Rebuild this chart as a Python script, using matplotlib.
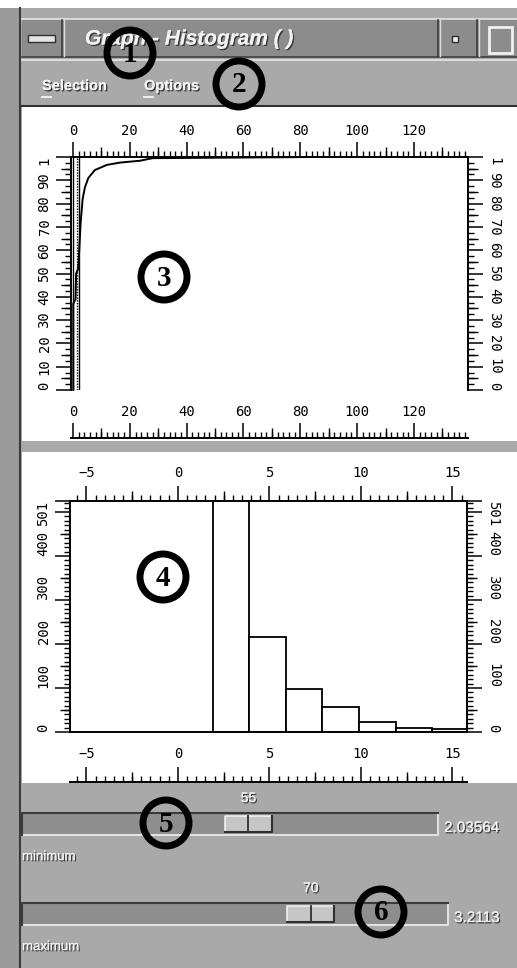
import matplotlib
matplotlib.use("Agg")
import numpy as np
import matplotlib.pyplot as plt
from matplotlib.patches import Rectangle, Circle
from matplotlib.ticker import FixedLocator, MultipleLocator
import matplotlib.patheffects as pe

W, H = 517, 968

# ---- window texts ----
window_title = "Graph - Histogram ( )"
menu_items = ["Selection", "Options"]

# ---- panel 3 : cumulative curve ----
cdf_x = [0.1, 0.1, 0.9, 1.1, 1.8, 2.2, 2.7, 3.4, 4.2, 5.4, 7.7, 11.9, 16.5, 23.6, 28.0, 86.0]
cdf_y = [0.0, 0.37, 0.39, 0.50, 0.52, 0.60, 0.72, 0.82, 0.87, 0.91, 0.944, 0.966, 0.976, 0.984, 0.995, 1.0]
cdf_solid_lines = [0.1, 2.1]
cdf_dotted_lines = [1.4]
cdf_xticks = [0, 20, 40, 60, 80, 100, 120]
cdf_yticks = [0.0, 0.1, 0.2, 0.3, 0.4, 0.5, 0.6, 0.7, 0.8, 0.9, 1.0]
cdf_ylabels = ["0", "10", "20", "30", "40", "50", "60", "70", "80", "90", "1"]

# ---- panel 4 : histogram ----
hist_edges = [1.9, 3.9, 5.9, 7.9, 9.9, 11.9, 13.9, 15.9]
hist_counts = [1150, 216, 98, 57, 23, 10, 6]
hist_xticks = [-5, 0, 5, 10, 15]
hist_yticks = [0, 100, 200, 300, 400, 500, 525]
hist_ylabels = ["0", "100", "200", "300", "400", "", "501"]

# ---- sliders ----
slider_names = ["minimum", "maximum"]
slider_pos = [55, 70]
slider_vals = ["2.03564", "3.2113"]

GRAY = "#a9a9a9"
TICKFONT = dict(family="DejaVu Sans Mono", size=10)


def box(x0, y0, x1, y1):
    # pixel rect (top-left origin) -> figure fraction
    return [x0 / W, 1 - y1 / H, (x1 - x0) / W, (y1 - y0) / H]


def shadow():
    return [pe.withSimplePatchShadow(offset=(1, -1), shadow_rgbFace="#303030", alpha=0.9), pe.Normal()]


fig = plt.figure(figsize=(W / 100, H / 100), dpi=100, facecolor="white")

# ---------------- window chrome ----------------
bg = fig.add_axes([0, 0, 1, 1])
bg.set_xlim(0, W)
bg.set_ylim(H, 0)
bg.axis("off")

bg.add_patch(Rectangle((0, 8), 20, H - 8, fc="#9b9b9b", ec="none"))
bg.plot([19.5, 19.5], [8, H], color="#3a3a3a", lw=1.5)
bg.add_patch(Rectangle((20, 8), W - 20, H - 8, fc=GRAY, ec="none"))

# title bar
bg.add_patch(Rectangle((22, 19), W - 22, 38, fc="#8c8c8c", ec="none"))
bg.plot([22, W], [19, 19], color="#e6e6e6", lw=1.2)
bg.plot([22, W], [57, 57], color="#404040", lw=1.2)
for sx in [62, 438, 477]:
    bg.plot([sx, sx], [20, 56], color="#3c3c3c", lw=1.2)
    bg.plot([sx + 1.5, sx + 1.5], [20, 56], color="#dcdcdc", lw=1.0)
bg.add_patch(Rectangle((28, 35), 27, 7, fc="#e4e4e4", ec="#303030", lw=1.0))
bg.add_patch(Rectangle((452, 36), 6, 6, fc="#f0f0f0", ec="#303030", lw=1.0))
bg.add_patch(Rectangle((489, 27), 23, 26, fc="none", ec="#f0f0f0", lw=2.0))
bg.text(85, 39, window_title, fontsize=15, fontweight="bold", fontstyle="italic",
        family="Liberation Sans", color="#f2f2f2", ha="left", va="center",
        path_effects=shadow())

# menu bar
bg.plot([22, W], [60, 60], color="#e6e6e6", lw=1.2)
menu_x = [42, 144]
for mx, item in zip(menu_x, menu_items):
    bg.text(mx, 86, item, fontsize=10.5, fontweight="bold", family="Liberation Sans",
            color="#f4f4f4", ha="left", va="center", path_effects=shadow())
    bg.plot([mx, mx + 9], [97, 97], color="#f4f4f4", lw=1.3)
bg.plot([22, W], [106, 106], color="#303030", lw=1.5)

# white panels
bg.add_patch(Rectangle((22, 107), W - 22, 334, fc="white", ec="none"))
bg.add_patch(Rectangle((22, 452), W - 22, 331, fc="white", ec="none"))

# sliders
troughs = [(22, 438, 813), (22, 448, 903)]
for (x0, x1, y0), name, pos, val in zip(troughs, slider_names, slider_pos, slider_vals):
    bg.add_patch(Rectangle((x0, y0), x1 - x0, 22, fc="#8e8e8e", ec="none"))
    bg.plot([x0, x1, x1], [y0 + 22, y0 + 22, y0], color="#e2e2e2", lw=1.5)
    bg.plot([x0, x0, x1], [y0 + 22, y0, y0], color="#3a3a3a", lw=1.5)
    tw = 47
    cx = x0 + tw / 2 + pos / 100 * (x1 - x0 - tw)
    bg.add_patch(Rectangle((cx - tw / 2, y0 + 3), tw, 16, fc="#c6c6c6", ec="none"))
    bg.plot([cx - tw / 2, cx - tw / 2, cx + tw / 2], [y0 + 19, y0 + 3, y0 + 3], color="#efefef", lw=1.2)
    bg.plot([cx - tw / 2, cx + tw / 2, cx + tw / 2], [y0 + 19, y0 + 19, y0 + 3], color="#303030", lw=1.5)
    bg.plot([cx, cx], [y0 + 3, y0 + 19], color="#303030", lw=1.3)
    bg.text(cx, y0 - 15, str(pos), fontsize=10, family="Liberation Sans", color="#f2f2f2",
            ha="center", va="center", path_effects=shadow())
    bg.text(x1 + 6, y0 + 15, val, fontsize=11, family="Liberation Sans", color="#f2f2f2",
            ha="left", va="center", path_effects=shadow())
    bg.text(22, y0 + 44, name, fontsize=9.5, family="Liberation Sans", color="#f2f2f2",
            ha="left", va="center", path_effects=shadow())


def mid_ticks(ax, side, locs, length):
    if side in ("top", "bottom"):
        sec = ax.secondary_xaxis(side)
    else:
        sec = ax.secondary_yaxis(side)
    sec.set_ticks(locs)
    sec.tick_params(direction="out", length=length, width=1, labelleft=False, labelright=False,
                    labeltop=False, labelbottom=False)
    for s in sec.spines.values():
        s.set_visible(False)
    return sec


def style_axis(ax):
    for s in ax.spines.values():
        s.set_linewidth(1.4)
    ax.tick_params(which="major", direction="out", length=11, width=1.1)
    ax.tick_params(which="minor", direction="out", length=4, width=1.0)


# ---------------- panel 3 ----------------
ax3 = fig.add_axes(box(71, 157, 468, 390))
ax3.set_xlim(-0.7, 139)
ax3.set_ylim(0, 1)
ax3.patch.set_alpha(0)
style_axis(ax3)
ax3.spines["bottom"].set_visible(False)
ax3.plot(cdf_x, cdf_y, color="black", lw=1.4, clip_on=False)
for x in cdf_solid_lines:
    ax3.axvline(x, color="black", lw=1.0)
for x in cdf_dotted_lines:
    ax3.axvline(x, color="black", lw=1.0, ls=(0, (1, 1)))
ax3.xaxis.set_major_locator(FixedLocator(cdf_xticks))
ax3.xaxis.set_minor_locator(MultipleLocator(2))
ax3.tick_params(axis="x", which="both", bottom=False, top=True, labelbottom=False, labeltop=True)
ax3.tick_params(axis="x", which="major", pad=3)
ax3.set_yticks(cdf_yticks, cdf_ylabels)
ax3.yaxis.set_minor_locator(MultipleLocator(0.025))
ax3.tick_params(axis="y", which="both", left=True, right=True, labelleft=True, labelright=True)
ax3.tick_params(axis="y", which="major", pad=3)
mid_ticks(ax3, "top", list(range(10, 140, 20)), 7)
mid_ticks(ax3, "left", [0.05 + 0.1 * i for i in range(10)], 7)
mid_ticks(ax3, "right", [0.05 + 0.1 * i for i in range(10)], 7)

sc3 = fig.add_axes(box(71, 438, 468, 441))
sc3.set_xlim(ax3.get_xlim())
sc3.patch.set_alpha(0)
for k in ["left", "right", "bottom"]:
    sc3.spines[k].set_visible(False)
sc3.spines["top"].set_linewidth(1.4)
sc3.set_yticks([])
sc3.xaxis.set_major_locator(FixedLocator(cdf_xticks))
sc3.xaxis.set_minor_locator(MultipleLocator(2))
sc3.tick_params(axis="x", which="both", direction="out", bottom=False, top=True,
                labelbottom=False, labeltop=True)
sc3.tick_params(axis="x", which="major", length=11, width=1.1, pad=3)
sc3.tick_params(axis="x", which="minor", length=4, width=1.0)
mid_ticks(sc3, "top", list(range(10, 140, 20)), 7)

# ---------------- panel 4 ----------------
ax4 = fig.add_axes(box(70, 501, 467, 732))
ax4.set_xlim(-5.9, 15.8)
ax4.set_ylim(0, 525)
style_axis(ax4)
ax4.bar(hist_edges[:-1], hist_counts, width=np.diff(hist_edges), align="edge",
        facecolor="white", edgecolor="black", lw=1.3)
ax4.xaxis.set_major_locator(FixedLocator(hist_xticks))
ax4.xaxis.set_minor_locator(MultipleLocator(0.5))
ax4.tick_params(axis="x", which="both", bottom=False, top=True, labelbottom=False, labeltop=True)
ax4.tick_params(axis="x", which="major", pad=4)
ax4.set_yticks(hist_yticks, hist_ylabels)
ax4.yaxis.set_minor_locator(MultipleLocator(10))
ax4.tick_params(axis="y", which="both", left=True, right=True, labelleft=True, labelright=True)
ax4.tick_params(axis="y", which="major", pad=3)
mid_ticks(ax4, "top", [-2.5, 2.5, 7.5, 12.5], 7)
mid_ticks(ax4, "left", [50, 150, 250, 350, 450], 7)
mid_ticks(ax4, "right", [50, 150, 250, 350, 450], 7)

sc4 = fig.add_axes(box(70, 782, 467, 785))
sc4.set_xlim(ax4.get_xlim())
sc4.patch.set_alpha(0)
for k in ["left", "right", "bottom"]:
    sc4.spines[k].set_visible(False)
sc4.spines["top"].set_linewidth(1.4)
sc4.set_yticks([])
sc4.xaxis.set_major_locator(FixedLocator(hist_xticks))
sc4.xaxis.set_minor_locator(MultipleLocator(0.5))
sc4.tick_params(axis="x", which="both", direction="out", bottom=False, top=True,
                labelbottom=False, labeltop=True)
sc4.tick_params(axis="x", which="major", length=11, width=1.1, pad=4)
sc4.tick_params(axis="x", which="minor", length=4, width=1.0)
mid_ticks(sc4, "top", [-2.5, 2.5, 7.5, 12.5], 7)

# tick label fonts / rotations
for a in [ax3, ax4, sc3, sc4]:
    for lbl in a.get_xticklabels():
        lbl.set_fontfamily(TICKFONT["family"])
        lbl.set_fontsize(TICKFONT["size"])
for a, centered in [(ax3, True), (ax4, False)]:
    ticks = a.yaxis.get_major_ticks()
    n = len(ticks)
    for i, t in enumerate(ticks):
        if i == n - 1:
            va = "top"
        elif i == 0 or not centered:
            va = "bottom"
        else:
            va = "center"
        for lbl, rot in [(t.label1, 90), (t.label2, 270)]:
            lbl.set_rotation(rot)
            lbl.set_va(va)
            lbl.set_fontfamily(TICKFONT["family"])
            lbl.set_fontsize(TICKFONT["size"])

# ---------------- callout circles ----------------
ov = fig.add_axes([0, 0, 1, 1], zorder=20)
ov.set_xlim(0, W)
ov.set_ylim(H, 0)
ov.axis("off")
callouts = [("1", 130, 53), ("2", 239, 84), ("3", 164, 277),
            ("4", 163, 577), ("5", 166, 823), ("6", 381, 912)]
for num, cx, cy in callouts:
    ov.add_patch(Circle((cx, cy), 23, fill=False, ec="black", lw=5.0))
    ov.text(cx, cy + 1, num, fontsize=21, fontweight="bold", family="Liberation Serif",
            color="black", ha="center", va="center")

fig.savefig("out.png", dpi=100, facecolor="white")
